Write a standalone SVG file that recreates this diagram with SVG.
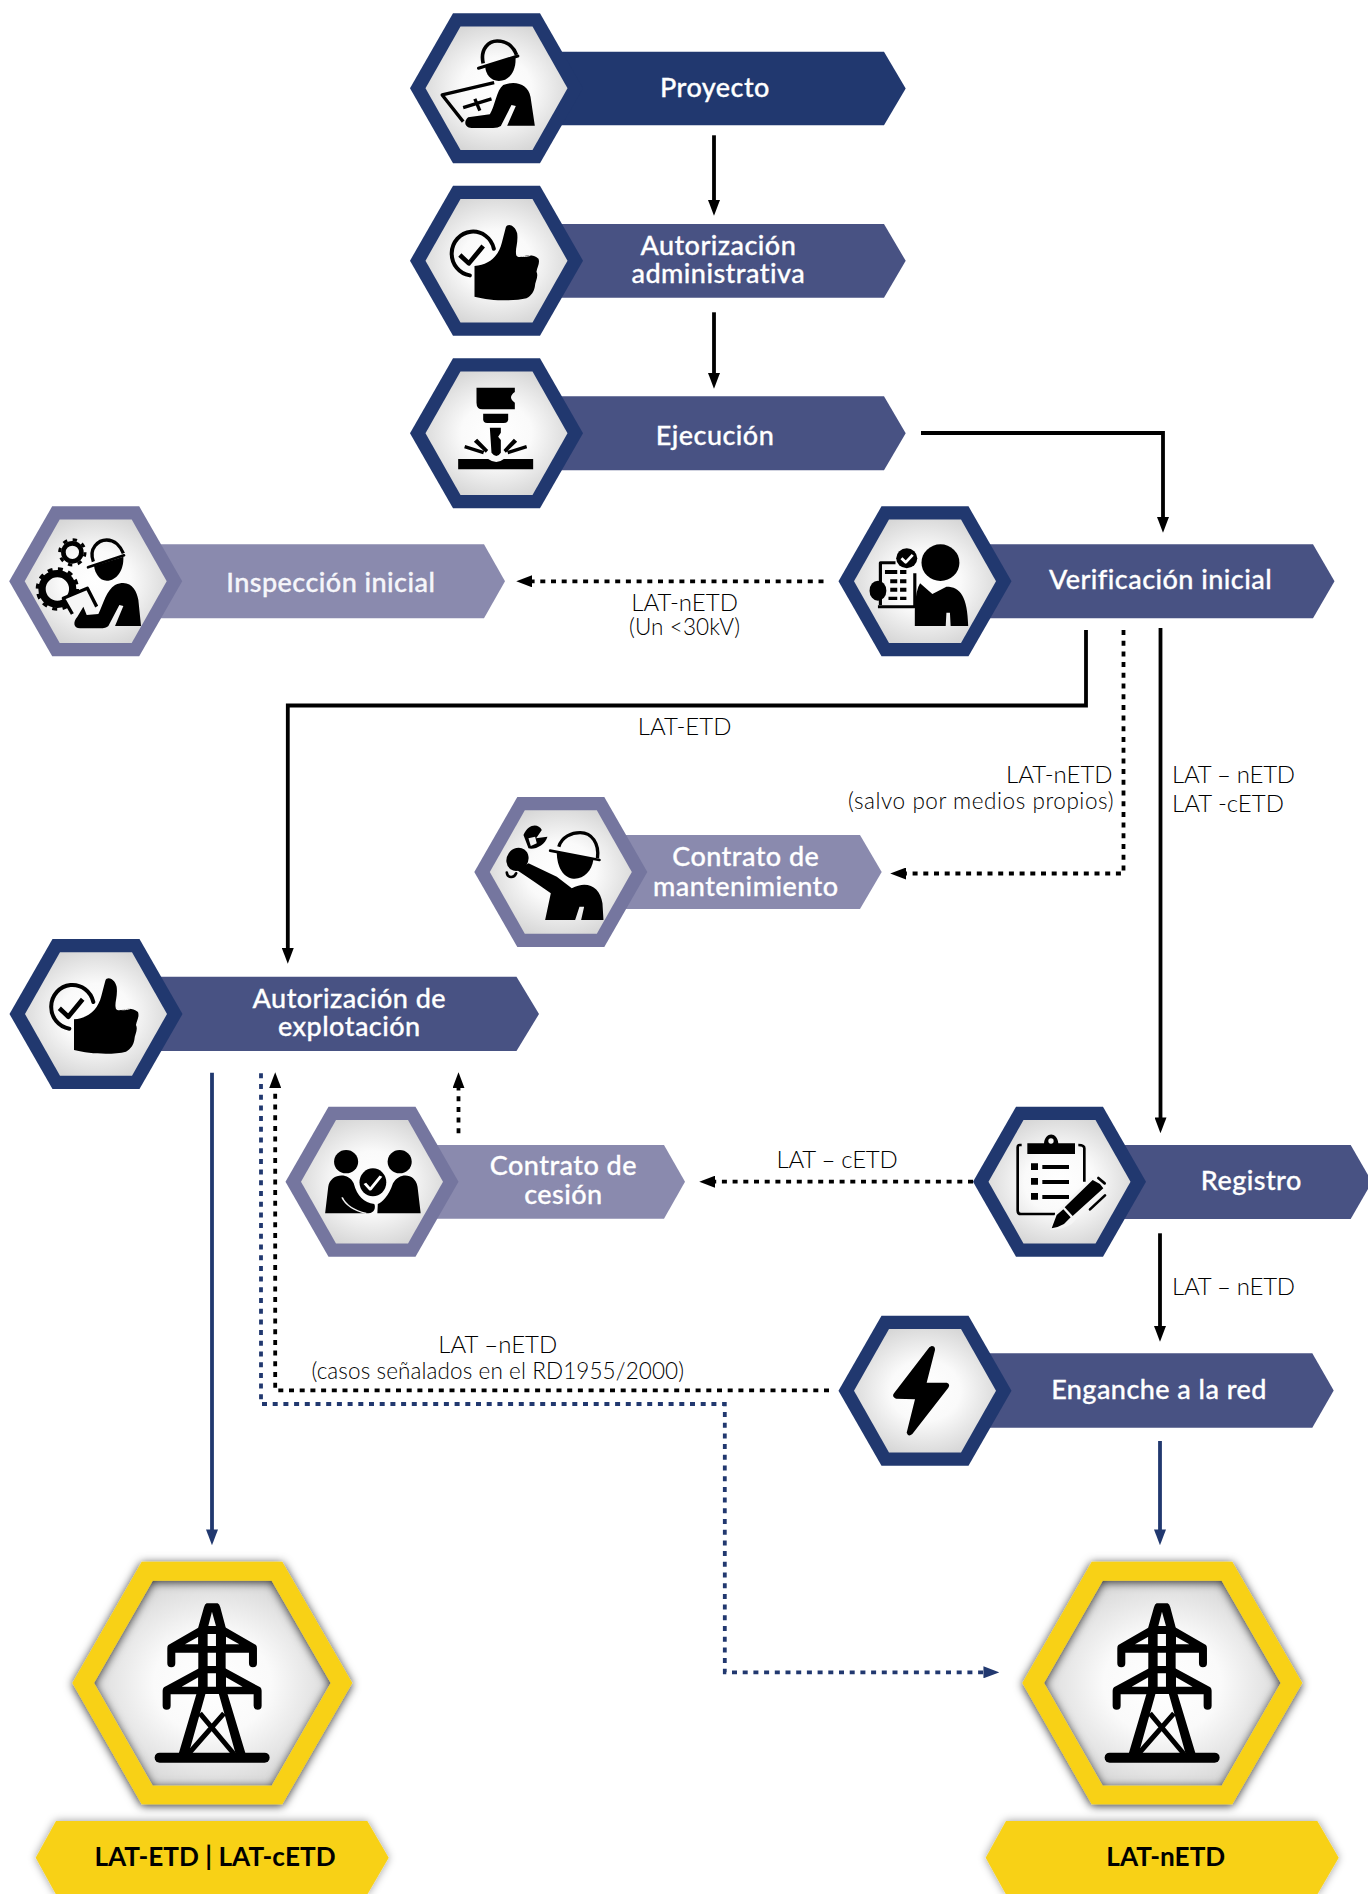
<svg xmlns="http://www.w3.org/2000/svg" xmlns:xlink="http://www.w3.org/1999/xlink" width="1368" height="1894" viewBox="0 0 1368 1894">
<style>
text{font-family:"Lato","Noto Sans","Liberation Sans",sans-serif;font-variant-ligatures:none}
.t{fill:#fff;font-size:27px;font-weight:500;text-anchor:middle;letter-spacing:.45px;stroke:#fff;stroke-width:.3px}
.l{fill:#000;font-size:24px;font-weight:300}
.s{font-size:22.5px;letter-spacing:.1px}
.m{text-anchor:middle}
.e{text-anchor:end}
.b{fill:#000;font-size:26.2px;font-weight:700;text-anchor:middle}
.navy{fill:#21386f}.mid{fill:#485283}.pale{fill:#8a8aae}.slate{fill:#75769f}
.in{fill:url(#g)}
.k{fill:#000}.w{fill:#fff}
.ko{fill:none;stroke:#000;stroke-linejoin:round}
.c{fill:none;stroke:#000;stroke-width:3.8}
.cn{stroke:#21386f}
.d{stroke-dasharray:5 5.7}
.yel{fill:#f8d117}
</style>
<defs>
<radialGradient id="g" cx="50%" cy="50%" r="55%"><stop offset="0" stop-color="#fff"/><stop offset=".45" stop-color="#fafafa"/><stop offset="1" stop-color="#d6d6d6"/></radialGradient>
<filter id="sh" x="-15%" y="-15%" width="130%" height="130%"><feDropShadow dx="0" dy="1.5" stdDeviation="5" flood-color="#000" flood-opacity=".8"/></filter>
<filter id="sh2" x="-8%" y="-30%" width="116%" height="160%"><feDropShadow dx="0" dy="0" stdDeviation="4" flood-color="#000" flood-opacity=".4"/></filter>
<marker id="a" markerUnits="userSpaceOnUse" markerWidth="16" markerHeight="12" viewBox="0 0 15 11.4" refX="1" refY="5.7" orient="auto"><path d="M0 0L15 5.7L0 11.4z" fill="#000"/></marker>
<marker id="an" markerUnits="userSpaceOnUse" markerWidth="16" markerHeight="12" viewBox="0 0 15 11.4" refX="1" refY="5.7" orient="auto"><path d="M0 0L15 5.7L0 11.4z" fill="#21386f"/></marker>
<polygon id="ho" points="-86.5,0 -43.5,-75 43.5,-75 86.5,0 43.5,75 -43.5,75"/>
<polygon id="hi" points="-71,0 -36,-61.7 36,-61.7 71,0 36,61.7 -36,61.7"/>
<g id="thumb" transform="scale(.3333) translate(-290 -782)">
<path class="ko" stroke-width="12" stroke-linecap="round" d="M210 826A64 66 0 1 1 282 746"/>
<path class="ko" stroke-width="14" d="M180 765L207 790L250 738"/>
<path class="k" d="M224 798C268 795 296 768 306 728L318 682C323 668 346 675 352 700C356 730 344 750 350 767C362 780 388 752 416 776C421 790 412 802 410 815C417 830 406 842 405 860C402 875 396 885 380 895C340 905 270 902 224 890Z"/>
<path fill="none" stroke="#f2f2f2" stroke-width="3" d="M350 762C360 772 380 770 392 766"/>
</g>
<g id="tower" transform="scale(.3333) translate(-547 -429)">
<path class="k" fill-rule="evenodd" d="M530 190L563 190Q568 192 571 202L587 262L587 462L505 462L505 262L522 202Q525 192 530 190ZM546 215L535 258L558 258ZM533 282L533 318L558 318L558 282ZM533 338L533 378L558 378L558 338ZM533 400L533 440L558 440L558 400Z"/>
<path class="k" fill-rule="evenodd" id="armL" d="M510 260L415 315Q412 318 412 325L412 370A12 12 0 0 0 436 370L436 338L510 338ZM465 313L505 290L505 313ZM510 383L402 442Q398 446 398 452L398 497A12 12 0 0 0 422 497L422 463L510 463ZM455 440L505 412L505 440Z"/>
<use href="#armL" transform="matrix(-1 0 0 1 1093 0)"/>
<path class="k" d="M500 460L445 645L475 645L527 460ZM592 460L648 645L618 645L566 460Z"/>
<path class="ko" stroke-width="15" d="M510 520L612 642M582 520L475 642"/>
<path class="ko" stroke-width="30" stroke-linecap="round" d="M389 653L704 653"/>
</g>
</defs>
<rect width="1368" height="1894" fill="#fff"/>
<g id="connectors">
<path class="c" marker-end="url(#a)" d="M714 135.3V201"/>
<path class="c" marker-end="url(#a)" d="M714 312.3V374"/>
<path class="c" marker-end="url(#a)" d="M921 433H1163V518"/>
<path class="c d" marker-end="url(#a)" d="M823.5 581.3H531"/>
<path class="c" marker-end="url(#a)" d="M1086 630V705.5H287.8V949"/>
<path class="c d" marker-end="url(#a)" d="M1123.5 630V873.5H905"/>
<path class="c" marker-end="url(#a)" d="M1160.5 628V1118.5"/>
<path class="c d" marker-end="url(#a)" d="M973 1181.7H714"/>
<path class="c" marker-end="url(#a)" d="M1160 1233.3V1327"/>
<path class="c d" marker-end="url(#a)" d="M829 1390.3H275.2V1087"/>
<path class="c d" marker-end="url(#a)" d="M458.5 1133.3V1087"/>
<path class="c cn d" d="M261 1073.3V1404H724.8V1672.3H984.5" marker-end="url(#an)"/>
<path class="c cn" marker-end="url(#an)" d="M212 1072.7V1530.5"/>
<path class="c cn" marker-end="url(#an)" d="M1160 1441V1530.5"/>
</g>
<g id="connector-labels">
<text class="l m" x="684.6" y="610.5">LAT-nETD</text>
<text class="l m s" x="684.6" y="635">(Un &lt;30kV)</text>
<text class="l m" x="684.6" y="734.5">LAT-ETD</text>
<text class="l e" x="1112.6" y="782.7">LAT-nETD</text>
<text class="l e s" style="letter-spacing:.55px" x="1114" y="809">(salvo por medios propios)</text>
<text class="l" style="letter-spacing:-.25px" x="1172" y="782.7">LAT – nETD</text>
<text class="l" x="1172" y="811.7">LAT -cETD</text>
<text class="l m" style="letter-spacing:-.25px" x="837" y="1167.5">LAT – cETD</text>
<text class="l" style="letter-spacing:-.25px" x="1172" y="1295">LAT – nETD</text>
<text class="l m" x="497.8" y="1352.7">LAT –nETD</text>
<text class="l m s" x="497.8" y="1379">(casos señalados en el RD1955/2000)</text>
</g>

<g id="proyecto">
<polygon class="navy" points="497,51.7 884,51.7 905.7,88.5 884,125.3 497,125.3"/>
<g transform="translate(496.5 88.3)"><use href="#ho" class="navy"/><use href="#hi" class="in"/>
<g transform="scale(.3333) translate(-290 -265)">
<path class="ko" stroke-width="11" d="M250 190C240 145 268 123 292 123C325 123 343 145 350 165"/>
<path class="ko" stroke-width="9" stroke-linecap="round" d="M236 205L354 168"/>
<path class="k" d="M256 199L347 172C350 210 330 243 297 243C272 243 257 222 256 199Z"/>
<path class="k" d="M310 255C350 240 385 255 392 290L405 377L322 377L348 318L335 315L303 378Q295 384 280 384L215 384C195 384 190 365 205 352L270 343C285 320 290 270 310 255Z"/>
<path class="ko" stroke-width="10" d="M283 248L127 285L190 365M190 323L275 297M225 297L240 332"/>
</g></g>
<text class="t" x="715" y="97.2">Proyecto</text>
</g>

<g id="autorizacion-administrativa">
<polygon class="mid" points="497,224 884,224 905.7,260.8 884,297.7 497,297.7"/>
<g transform="translate(496.5 260.7)"><use href="#ho" class="navy"/><use href="#hi" class="in"/><use href="#thumb"/></g>
<text class="t" x="718.3" y="254.8">Autorización</text>
<text class="t" x="718.3" y="283.2">administrativa</text>
</g>

<g id="ejecucion">
<polygon class="mid" points="497,396.3 884,396.3 905.7,433.3 884,470.3 497,470.3"/>
<g transform="translate(496.5 433.3)"><use href="#ho" class="navy"/><use href="#hi" class="in"/>
<g transform="scale(.3333) translate(-290 -1300)">
<path class="k" d="M230 1163H345V1176Q322 1192 345 1208V1228H248Q230 1228 230 1208Z"/>
<path class="k" d="M250 1241H325V1258Q325 1269 312 1269H262Q250 1269 250 1258Z"/>
<path class="k" d="M270 1283H303V1298L295 1310L303 1320V1358Q290 1378 275 1358Z"/>
<path class="k" d="M193 1345L250 1363L253 1353L196 1335ZM222 1325L258 1358L265 1350L232 1316ZM382 1345L325 1363L322 1353L379 1335ZM352 1325L318 1358L311 1350L342 1316Z"/>
<path class="k" d="M175 1377H265Q290 1395 312 1377H400V1408H175Z"/>
</g></g>
<text class="t" x="715" y="445">Ejecución</text>
</g>

<g id="inspeccion-inicial">
<polygon class="pale" points="96,544.3 484,544.3 505,581.3 484,618.3 96,618.3"/>
<g transform="translate(95.7 581.3)"><use href="#ho" class="slate"/><use href="#hi" class="in"/>
<g transform="scale(.3333) translate(-287 -274)">
<circle class="ko" cx="217" cy="187" r="27" stroke-width="14"/>
<circle class="ko" cx="217" cy="187" r="38" stroke-width="9" stroke-dasharray="13 16.8"/>
<path class="k" fill-rule="evenodd" d="M172 240A57 57 0 1 0 172 354A57 57 0 1 0 172 240ZM172 262A35 35 0 1 1 172 332A35 35 0 1 1 172 262Z"/>
<circle class="ko" cx="172" cy="297" r="60" stroke-width="10" stroke-dasharray="15 16.4"/>
<path fill="#f6f6f6" d="M190 325L262 295L290 350L295 372L250 375L217 372Z"/>
<path class="ko" stroke-width="10" d="M217 372L190 325L262 295L290 350"/>
<path class="ko" stroke-width="10" d="M280 215C265 175 295 150 320 150C345 150 362 170 370 190"/>
<path class="ko" stroke-width="8" stroke-linecap="round" d="M264 232L372 196"/>
<path class="k" d="M282 228L370 200C372 240 350 272 320 272C298 272 285 250 282 228Z"/>
<path class="k" d="M345 285C390 265 410 300 415 330L423 408L345 408L370 348L358 345L325 408Q318 415 300 415L240 415C220 415 218 395 232 380L250 350L260 375L295 372C310 340 320 300 345 285Z"/>
</g></g>
<text class="t" x="330.8" y="591.5" style="fill:#f5f5fa">Inspección inicial</text>
</g>

<g id="verificacion-inicial">
<polygon class="mid" points="925,544.3 1313,544.3 1334.5,581.3 1313,618.3 925,618.3"/>
<g transform="translate(925 581.3)"><use href="#ho" class="navy"/><use href="#hi" class="in"/>
<g transform="scale(.3512 .3333) translate(-299 -274)">
<ellipse class="k" cx="343" cy="218" rx="54" ry="55"/>
<path class="k" d="M270 408V360Q272 300 285 280L320 312L360 290C400 290 420 320 422 408H372L370 368H360L358 408Z"/>
<path class="ko" stroke-width="9" d="M215 218H172V345M165 350H270V250"/>
<path class="k" d="M185 240h35v12h-35zM228 240h18v12h-18zM200 268h20v12h-20zM228 268h18v12h-18zM200 293h20v12h-20zM228 293h18v12h-18zM195 320h25v10h-25zM228 320h18v10h-18z"/>
<circle class="k" cx="247" cy="205" r="30"/>
<path class="ko" style="stroke:#fff" stroke-width="8" d="M232 205L244 217L264 195"/>
<ellipse class="k" cx="165" cy="302" rx="24" ry="30"/>
</g></g>
<text class="t" x="1160.5" y="589">Verificación inicial</text>
</g>

<g id="contrato-mantenimiento">
<polygon class="pale" points="561,835 860,835 881.7,872 860,909 561,909"/>
<g transform="translate(560.8 872)"><use href="#ho" class="slate"/><use href="#hi" class="in"/>
<g transform="scale(.3333) translate(-302 -276)">
<path class="ko" stroke-width="10" d="M296 200C305 170 335 158 360 158C395 158 418 190 412 235"/>
<path class="ko" stroke-width="8" stroke-linecap="round" d="M270 212L418 240"/>
<path class="k" d="M290 216L400 238C395 275 370 298 340 296C310 294 290 262 290 216Z"/>
<path class="k" d="M205 250L290 290L335 325C380 300 420 320 427 370L430 420H363L372 380H358L345 420H255L272 340Q230 310 170 270Z"/>
<ellipse class="k" cx="172" cy="238" rx="32" ry="36" transform="rotate(35 172 238)"/>
<path class="ko" stroke-width="8" stroke-linecap="round" d="M140 278C142 295 162 295 168 280"/>
<path class="k" fill-rule="evenodd" d="M190 165C205 130 235 130 245 150L228 175L250 172L262 170C255 195 225 210 205 205Z M205 175L225 170L230 190L212 198Z"/>
</g></g>
<text class="t" x="745.8" y="865.5">Contrato de</text>
<text class="t" x="745.8" y="895.5">mantenimiento</text>
</g>

<g id="autorizacion-explotacion">
<polygon class="mid" points="96,976.7 516.5,976.7 539,1014 516.5,1051 96,1051"/>
<g transform="translate(96 1014)"><use href="#ho" class="navy"/><use href="#hi" class="in"/><use href="#thumb"/></g>
<text class="t" x="349.3" y="1007.6">Autorización de</text>
<text class="t" x="349.3" y="1036.3">explotación</text>
</g>

<g id="contrato-cesion">
<polygon class="pale" points="372,1145 664,1145 685,1181.8 664,1218.7 372,1218.7"/>
<g transform="translate(372 1181.7)"><use href="#ho" class="slate"/><use href="#hi" class="in"/>
<g transform="scale(.4464 .3333) translate(-833 -785)">
<ellipse class="k" cx="775" cy="725" rx="27" ry="35"/>
<ellipse class="k" cx="895" cy="725" rx="27" ry="35"/>
<path class="k" d="M728 880L735 800C740 760 780 755 792 790C800 830 815 848 838 852C842 862 838 880 825 880Z"/>
<path class="k" d="M942 880L935 800C930 760 895 755 880 790C870 830 855 848 846 852L845 880Z"/>
<path fill="none" stroke="#f2f2f2" stroke-width="4" d="M766 832C775 858 795 872 820 880"/>
<ellipse class="k" cx="835" cy="787" rx="30" ry="42"/>
<path class="ko" style="stroke:#fff" stroke-width="7" d="M817 790L829 808L853 768"/>
</g></g>
<text class="t" x="563.4" y="1175.4">Contrato de</text>
<text class="t" x="563.4" y="1204.4">cesión</text>
</g>

<g id="registro">
<polygon class="mid" points="1060,1145 1350.7,1145 1372,1182 1350.7,1219 1060,1219"/>
<g transform="translate(1059.5 1181.7)"><use href="#ho" class="navy"/><use href="#hi" class="in"/>
<g transform="scale(.3333) translate(-358.5 -275)">
<path class="k" d="M262 160H312C315 125 352 125 355 160H405V192H262Z"/>
<circle cx="333" cy="153" r="8" fill="#f5f5f5"/>
<path class="ko" stroke-width="8" d="M245 165H239Q233 165 233 172V362Q233 372 243 372H345M415 165Q433 165 433 175V275"/>
<path class="k" d="M273 220h21v20h-21zM273 264h21v20h-21zM273 309h21v20h-21zM307 225h80v12h-80zM307 270h80v12h-80zM307 315h80v12h-80z"/>
<path d="M330 420L345 372L452 262L505 290L395 402Q370 418 330 420Z" fill="#f5f5f5"/>
<path class="k" d="M335 415L350 375L370 358L392 382L372 402Q355 412 335 415ZM374 352L458 270L480 282L490 295L398 378Z"/>
<path class="ko" stroke-width="8" stroke-linecap="round" d="M475 264L494 280M450 358L495 316"/>
</g></g>
<text class="t" x="1251.3" y="1189.8">Registro</text>
</g>

<g id="enganche">
<polygon class="mid" points="925,1353.3 1312.3,1353.3 1333.7,1390.5 1312.3,1427.7 925,1427.7"/>
<g transform="translate(925 1390.7)"><use href="#ho" class="navy"/><use href="#hi" class="in"/>
<g transform="scale(.3333) translate(-285 -242)">
<path class="k" d="M305 108Q316 108 315 120L290 218L350 218Q362 222 355 233L247 372Q235 382 230 368L255 268L198 266Q184 260 192 250L298 112Z"/>
</g></g>
<text class="t" x="1159" y="1398.5">Enganche a la red</text>
</g>

<g id="lat-etd">
<polygon class="in" points="94,1683 152.7,1580.7 271.7,1580.7 330.7,1683 271.7,1785.7 152.7,1785.7"/>
<path class="yel" filter="url(#sh)" fill-rule="evenodd" d="M72.3 1683L141.7 1561.7H282.3L352.3 1683L282.3 1804.3H141.7ZM94 1683L152.7 1785.7H271.7L330.7 1683L271.7 1580.7H152.7Z"/>
<g transform="translate(212.3 1683)"><use href="#tower"/></g>
<polygon class="yel" filter="url(#sh2)" points="35.7,1857.7 56,1821 367.3,1821 388.7,1857.7 367.3,1894.4 56,1894.4"/>
<text class="b" x="215" y="1866">LAT-ETD | LAT-cETD</text>
</g>

<g id="lat-netd">
<polygon class="in" points="1044,1683 1102.7,1580.7 1221.7,1580.7 1280.7,1683 1221.7,1785.7 1102.7,1785.7"/>
<path class="yel" filter="url(#sh)" fill-rule="evenodd" d="M1022.3 1683L1091.7 1561.7H1232.3L1302.3 1683L1232.3 1804.3H1091.7ZM1044 1683L1102.7 1785.7H1221.7L1280.7 1683L1221.7 1580.7H1102.7Z"/>
<g transform="translate(1162.3 1683)"><use href="#tower"/></g>
<polygon class="yel" filter="url(#sh2)" points="985.7,1857.7 1006,1821 1317.3,1821 1338.7,1857.7 1317.3,1894.4 1006,1894.4"/>
<text class="b" x="1165.8" y="1866">LAT-nETD</text>
</g>
</svg>
